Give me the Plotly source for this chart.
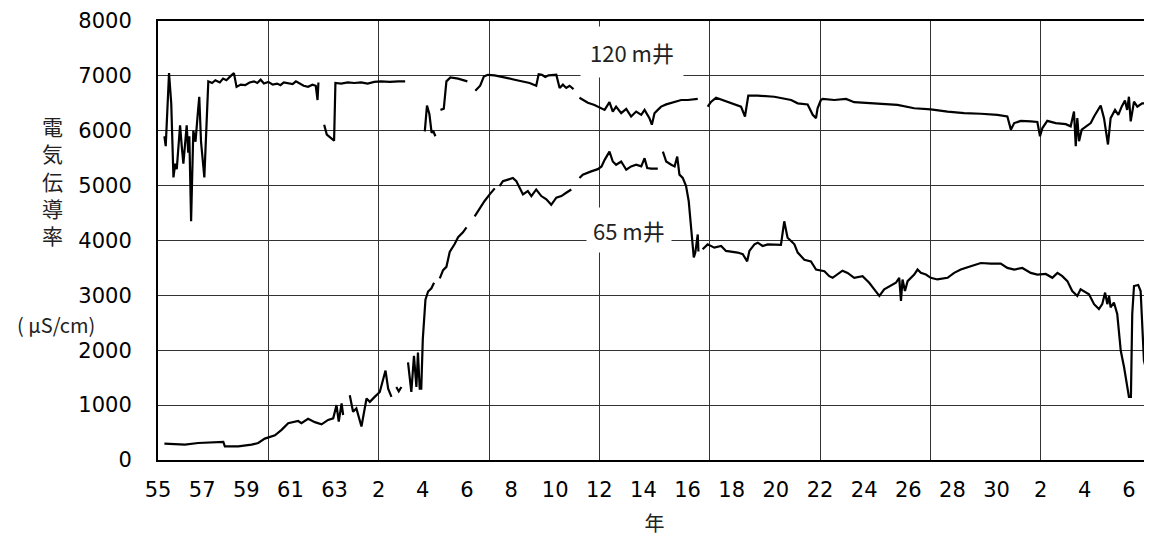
import plotly.graph_objects as go

# 120 m well: decimal year and electrical conductivity (uS/cm); None = gap in record
year_120m = [1980.29, 1980.35, 1980.5, 1980.6, 1980.7, 1980.78, 1980.85, 1981.0, 1981.08, 1981.15,
             1981.3, 1981.37, 1981.42, 1981.5, 1981.6, 1981.7, 1981.8, 1981.87, 1981.95, 1982.1,
             1982.28, 1982.45, 1982.6, 1982.8, 1982.95, 1983.1, 1983.3, 1983.44, 1983.56, 1983.75,
             1983.95, 1984.15, 1984.35, 1984.5, 1984.65, 1984.8, 1985.0, 1985.2, 1985.4, 1985.55,
             1985.7, 1985.9, 1986.1, 1986.25, 1986.45, 1986.6, 1986.8, 1987.0, 1987.15, 1987.23,
             1987.27, None,
             1987.53, 1987.65, 1987.98, 1988.04, 1988.3, 1988.6, 1988.9, 1989.2, 1989.5, 1989.8,
             1990.1, 1990.5, 1990.9, 1991.2, None,
             1992.09, 1992.19, 1992.3, 1992.4, 1992.47, 1992.57, None,
             1992.8, 1992.95, 1993.07, 1993.25, 1993.6, 1994.02, None,
             1994.38, 1994.6, 1994.77, 1994.95, 1995.25, 1995.55, 1995.85, 1996.16, 1996.5, 1996.84,
             1997.14, 1997.25, 1997.4, 1997.55, 1997.7, 1998.05, 1998.2, 1998.35, 1998.5, 1998.65,
             1998.83, None,
             1999.1, 1999.48, 1999.78, 2000.24, 2000.46, 2000.61, 2000.76, 2000.99, 2001.22, 2001.44,
             2001.67, 2001.9, 2002.05, 2002.27, 2002.38, 2002.5, 2002.65, 2002.8, 2003.03, 2003.33,
             2003.71, 2004.01, 2004.46, None,
             2004.91, 2005.07, 2005.29, 2005.67, 2006.04, 2006.42, 2006.6, 2006.75, 2007.18, 2007.93,
             2008.69, 2008.99, 2009.44, 2009.67, 2009.82, 2009.89, 2010.04, 2010.12, 2010.65, 2011.18,
             2011.55, 2012.46, 2013.51, 2014.27, 2015.02, 2015.78, 2016.53, 2017.29, 2018.04, 2018.49,
             2018.65, 2018.8, 2019.1, 2019.55, 2019.85, 2019.97, 2020.08, 2020.3, 2020.68, 2021.14,
             2021.36, 2021.51, 2021.59, 2021.66, 2021.74, 2021.86, 2022.04, 2022.27, 2022.42, 2022.57,
             2022.72, 2022.87, 2023.05, 2023.17, 2023.37, 2023.52, 2023.67, 2023.82, 2023.92, 2024.0,
             2024.08, 2024.23, 2024.38, 2024.6, 2024.98]
ec_120m = [5900, 5720, 7050, 6500, 5150, 5400, 5300, 6100, 5700, 5400,
           6100, 5600, 5900, 4350, 6000, 5800, 6300, 6620, 5800, 5150,
           6900, 6870, 6920, 6880, 6950, 6920, 7000, 7050, 6800, 6840,
           6830, 6880, 6900, 6870, 6930, 6860, 6890, 6840, 6860, 6830,
           6880, 6870, 6850, 6900, 6850, 6820, 6800, 6840, 6820, 6560,
           6880, None,
           6110, 5930, 5820, 6870, 6860, 6880, 6870, 6880, 6860, 6890,
           6900, 6890, 6900, 6900, None,
           5990, 6460, 6300, 5960, 6000, 5900, None,
           6380, 6400, 6900, 6970, 6950, 6900, None,
           6730, 6820, 6990, 7020, 7010, 6990, 6960, 6930, 6900, 6870,
           6820, 7030, 7020, 6980, 7010, 7020, 6780, 6840, 6780, 6820,
           6760, None,
           6600, 6510, 6470, 6380, 6520, 6350, 6440, 6320, 6400, 6260,
           6350, 6290, 6380, 6230, 6110, 6320, 6380, 6440, 6480, 6520,
           6560, 6560, 6580, None,
           6440, 6530, 6600, 6550, 6500, 6440, 6260, 6640, 6640, 6620,
           6560, 6500, 6480, 6290, 6230, 6410, 6560, 6580, 6560, 6580,
           6520, 6500, 6470, 6410, 6390, 6350, 6320, 6310, 6290, 6260,
           6020, 6140, 6180, 6170, 6160, 5900, 6050, 6180, 6140, 6120,
           6080, 6350, 5720, 6230, 5810, 6020, 6080, 6140, 6260, 6350,
           6460, 6230, 5750, 6230, 6380, 6290, 6440, 6550, 6380, 6620,
           6170, 6530, 6440, 6500, 6500]

# 65 m well
year_65m = [1980.29, 1981.22, 1981.82, 1982.96, 1983.03, 1983.64, 1984.24, 1984.54, 1984.84, 1985.3,
            1985.6, 1985.9, 1986.35, 1986.5, 1986.8, 1987.11, 1987.41, 1987.71, 1987.94, 1988.09,
            1988.19, 1988.32, 1988.39, None,
            1988.69, 1988.84, 1988.99, 1989.22, 1989.45, 1989.6, 1989.82, 1990.05, 1990.31, 1990.43,
            1990.58, None,
            1990.8, 1990.91, 1991.03, None,
            1991.33, 1991.48, 1991.6, 1991.71, 1991.78, 1991.86, 1991.93, 1992.0, 1992.12, 1992.24,
            1992.39, 1992.51, None,
            1992.77, 1992.92, 1993.07, 1993.22, 1993.45, 1993.6, 1993.82, 1993.98, None,
            1994.35, 1994.58, 1994.8, 1995.03, 1995.26, None,
            1995.48, 1995.63, 1995.86, 1996.08, 1996.24, 1996.39, 1996.54, 1996.76, 1996.92, 1997.14,
            1997.37, 1997.6, 1997.82, 1998.05, 1998.28, 1998.5, 1998.73, None,
            1999.1, 1999.25, 1999.63, 1999.93, 2000.1, 2000.24, 2000.46, 2000.61, 2000.76, 2000.99,
            2001.22, 2001.44, 2001.67, 2001.9, 2002.05, 2002.17, 2002.35, 2002.65, None,
            2002.88, 2003.03, 2003.26, 2003.41, 2003.53, 2003.63, 2003.78, 2003.93, 2004.05, 2004.13,
            2004.2, 2004.28, 2004.35, 2004.46, 2004.49, None,
            2004.68, 2004.91, 2005.21, 2005.52, 2005.74, 2005.97, 2006.27, 2006.5, 2006.7, 2006.8,
            2007.03, 2007.18, 2007.4, 2007.63, 2007.93, 2008.23, 2008.38, 2008.53, 2008.69, 2008.84,
            2008.99, 2009.29, 2009.59, 2009.82, 2010.2, 2010.42, 2010.57, 2010.8, 2011.02, 2011.25,
            2011.55, 2011.93, 2012.23, 2012.46, 2012.69, 2012.91, 2013.21, 2013.44, 2013.59, 2013.67,
            2013.74, 2013.85, 2013.97, 2014.12, 2014.27, 2014.42, 2014.57, 2014.8, 2015.02, 2015.32,
            2015.78, 2016.08, 2016.38, 2016.83, 2017.29, 2017.74, 2018.19, 2018.49, 2018.8, 2019.17,
            2019.55, 2019.85, 2020.23, 2020.53, 2020.76, 2020.98, 2021.21, 2021.43, 2021.66, 2021.81,
            2021.96, 2022.19, 2022.42, 2022.64, 2022.79, 2022.92, 2023.02, 2023.1, 2023.17, 2023.32,
            2023.47, 2023.63, 2023.78, 2023.93, 2024.0, 2024.09, 2024.15, 2024.23, 2024.42, 2024.53,
            2024.6, 2024.68, 2024.83, 2024.91, 2024.94]
ec_65m = [300, 280, 310, 330, 250, 250, 280, 310, 390, 450,
          550, 670, 710, 670, 750, 690, 650, 730, 760, 1000,
          700, 1030, 820, None,
          1180, 880, 940, 610, 1120, 1060, 1150, 1240, 1630, 1300,
          1150, None,
          1330, 1250, 1330, None,
          1780, 1240, 1900, 1330, 1960, 1300, 1300, 2200, 2920, 3070,
          3130, 3230, None,
          3310, 3460, 3520, 3790, 3940, 4060, 4150, 4240, None,
          4440, 4590, 4720, 4840, 4950, None,
          4990, 5080, 5110, 5140, 5080, 4960, 4840, 4900, 4810, 4930,
          4810, 4750, 4650, 4780, 4810, 4870, 4930, None,
          5140, 5200, 5260, 5300, 5350, 5470, 5620, 5440, 5380, 5440,
          5290, 5350, 5380, 5350, 5500, 5320, 5310, 5310, None,
          5620, 5440, 5380, 5350, 5530, 5200, 5140, 4990, 4720, 4350,
          3930, 3690, 3780, 4110, 3800, None,
          3840, 3930, 3870, 3900, 3810, 3800, 3780, 3750, 3620, 3810,
          3930, 3960, 3900, 3930, 3920, 3920, 4350, 4050, 3990, 3930,
          3780, 3650, 3620, 3470, 3440, 3350, 3320, 3380, 3450, 3410,
          3320, 3350, 3230, 3110, 2990, 3110, 3170, 3230, 3320, 2900,
          3290, 3080, 3260, 3320, 3380, 3470, 3410, 3380, 3320, 3290,
          3320, 3410, 3470, 3530, 3590, 3580, 3580, 3500, 3470, 3500,
          3410, 3380, 3390, 3320, 3410, 3350, 3260, 3080, 2990, 3110,
          3080, 3020, 2840, 2750, 2840, 3050, 2840, 2990, 2780, 2870,
          2660, 1990, 1690, 1330, 1150, 1150, 2660, 3170, 3190, 3080,
          2350, 1810, 1560, 1390, 3080]

# x tick labels: Showa 55-63, Heisei 2-30, Reiwa 2-6 (every 2 years)
tick_years = list(range(1980, 2025, 2))
tick_text = ["55", "57", "59", "61", "63",
             "2", "4", "6", "8", "10", "12", "14", "16", "18", "20", "22", "24", "26", "28", "30",
             "2", "4", "6"]
grid_years = list(range(1980, 2026, 5))

num_font = dict(family="DejaVu Sans", size=21, color="black")
jp_font = dict(family="Noto Sans CJK JP", size=20, color="#222")
grid_col = "#333333"

fig = go.Figure()
fig.add_trace(go.Scatter(x=year_120m, y=ec_120m, mode="lines", connectgaps=False,
                         line=dict(color="black", width=2.2), showlegend=False, name="120 m井"))
fig.add_trace(go.Scatter(x=year_65m, y=ec_65m, mode="lines", connectgaps=False,
                         line=dict(color="black", width=2.2), showlegend=False, name="65 m井"))

# page body has an 8px margin, so the figure is sized/offset to land the plot area where the original sits
fig.update_layout(
    width=1144, height=529,
    margin=dict(l=150, r=1, t=13, b=77, autoexpand=False),
    paper_bgcolor="white", plot_bgcolor="white",
    xaxis=dict(range=[1980, 2025], tickmode="array", tickvals=tick_years, ticktext=tick_text,
               showgrid=False, ticks="", tickfont=num_font, ticklabelstandoff=10, automargin=False,
               minor=dict(tickmode="array", tickvals=grid_years, showgrid=True,
                          gridcolor=grid_col, gridwidth=1, ticks=""),
               showline=True, linecolor="black", linewidth=2, mirror=True, zeroline=False,
               title=dict(text="年", font=jp_font, standoff=16)),
    yaxis=dict(range=[0, 8000], tick0=0, dtick=1000, showgrid=True, gridcolor=grid_col, gridwidth=1,
               ticks="", tickfont=num_font, ticklabelstandoff=20, automargin=False,
               showline=True, linecolor="black", linewidth=2, mirror=True, zeroline=False),
)

fig.add_annotation(text="電<br>気<br>伝<br>導<br>率", xref="paper", yref="paper", x=-0.106, y=0.636,
                   xanchor="center", yanchor="middle", showarrow=False,
                   font=dict(family="Noto Sans CJK JP", size=21, color="#222"))
fig.add_annotation(text="( μS/cm)", xref="paper", yref="paper", x=-0.103, y=0.308,
                   xanchor="center", yanchor="middle", showarrow=False,
                   font=dict(family="Noto Sans CJK JP", size=20, color="#222"))
fig.add_annotation(text="120 m井", x=2001.5, y=7430, showarrow=False, bgcolor="white",
                   xanchor="center", yanchor="middle", borderpad=9,
                   font=dict(family="Noto Sans CJK JP", size=22, color="#222"))
fig.add_annotation(text="65 m井", x=2001.35, y=4190, showarrow=False, bgcolor="white",
                   xanchor="center", yanchor="middle", borderpad=6,
                   font=dict(family="Noto Sans CJK JP", size=22, color="#222"))

fig.write_html("out.html")
